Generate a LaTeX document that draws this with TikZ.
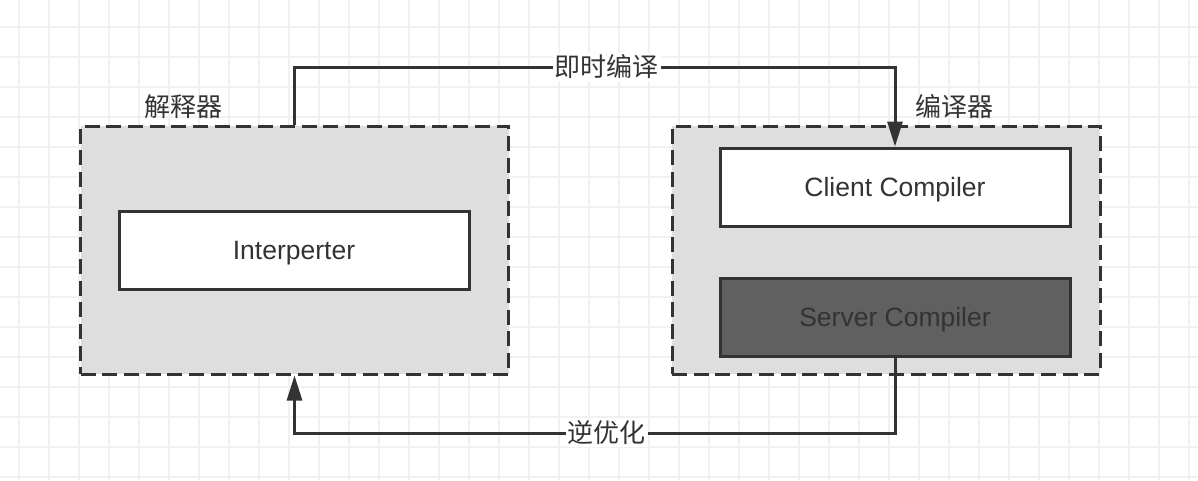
\documentclass[tikz,border=0pt]{standalone}
\usepackage{fontspec}
\setmainfont{Liberation Sans}
\newfontfamily\cjk{Noto Sans CJK SC}
\usetikzlibrary{arrows.meta}
\definecolor{ink}{HTML}{333333}
\definecolor{grp}{HTML}{DEDEDE}
\definecolor{dark}{HTML}{606060}
\definecolor{gridc}{HTML}{F1F1F1}
\tikzset{
  gridline/.style={draw=gridc, line width=1.2pt},
  group/.style={draw=ink, fill=grp, line width=3pt, dash pattern=on 15pt off 6.7pt, minimum width=428pt, minimum height=248pt, inner sep=0pt},
  box/.style={draw=ink, fill=white, line width=3pt, minimum width=350pt, minimum height=78pt, inner sep=0pt, text=ink, text height=19pt, text depth=1pt, font=\fontsize{26.5}{30}\selectfont},
  darkbox/.style={box, fill=dark},
  glabel/.style={text=ink, font=\cjk\fontsize{26}{30}\selectfont, inner sep=0pt},
  lab/.style={fill=white, text=ink, font=\cjk\fontsize{26}{30}\selectfont, inner sep=2pt},
  conn/.style={draw=ink, line width=3pt, -{Triangle[length=25pt,width=15pt]}},
}
\begin{document}
\begin{tikzpicture}[x=1pt,y=-1pt]
\useasboundingbox (0,0) rectangle (1198,480);
\fill[white] (0,0) rectangle (1198,480);
\foreach \gx in {19,49,...,1198} \draw[gridline] (\gx,0) -- (\gx,480);
\foreach \gy in {27,57,...,480} \draw[gridline] (0,\gy) -- (1198,\gy);

\node[group] (lg) at (294.5,250) {};
\node[group] (rg) at (886,250) {};
\node[glabel] (lgl) at (183,107) {解释器};
\node[glabel] (rgl) at (954,107) {编译器};

\node[box] (interp) at (294,250.5) {Interperter};
\node[box] (client) at (895,187) {Client Compiler};
\node[darkbox] (server) at (895,317) {Server Compiler};

\draw[conn] (lg.north) -- (lg.north |- 0,67) -- node[lab,pos=0.52]{即时编译} (client.north |- 0,67) -- (client.north);
\draw[conn] (server.south) -- (server.south |- 0,433) -- node[lab,pos=0.48]{逆优化} (lg.south |- 0,433) -- (lg.south);
\end{tikzpicture}
\end{document}
